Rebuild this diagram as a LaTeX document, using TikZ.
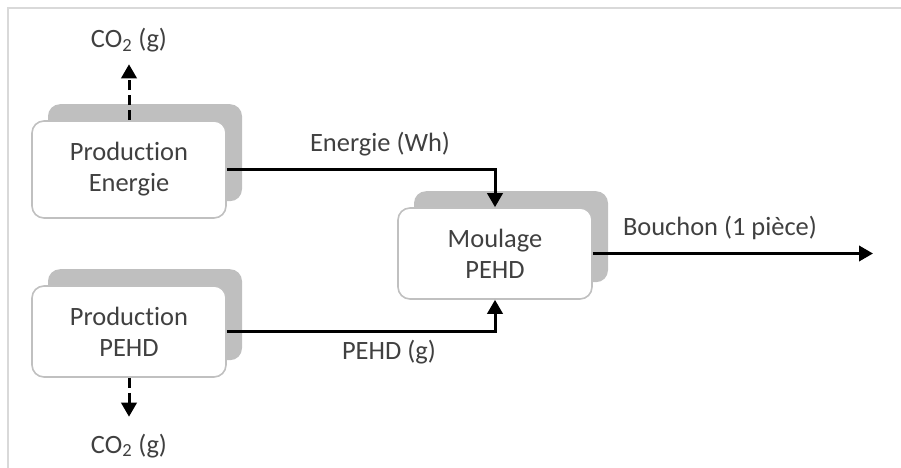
\documentclass[tikz,border=0pt]{standalone}
\usepackage{fontspec}
\setmainfont{Carlito}[Ligatures=NoCommon]
\usepackage{tikz}
\usetikzlibrary{arrows.meta,positioning,shadows}
\definecolor{txtgray}{HTML}{404040}
\definecolor{shadowgray}{HTML}{BFBFBF}
\definecolor{edgegray}{HTML}{C0C0C0}
\definecolor{framegray}{HTML}{D9D9D9}

\begin{document}
\begin{tikzpicture}[
  every node/.style={font=\fontsize{18.8}{22}\selectfont, text=txtgray},
  proc/.style={draw=edgegray, line width=0.04cm, fill=white, rounded corners=0.3cm,
    minimum width=4.85cm, minimum height=2.275cm, inner sep=0pt, align=center,
    general shadow={fill=shadowgray, shadow xshift=0.4cm, shadow yshift=0.42cm}},
  lbl/.style={inner sep=0.1cm, text height=0.45cm, text depth=0.13cm},
  flow/.style={-{Triangle[length=0.35cm, width=0.38cm]}, line width=0.075cm, black},
  emis/.style={flow, dash pattern=on 0.25cm off 0.125cm}
]
\useasboundingbox (0,0) rectangle (22.525,-11.7);
\draw[framegray, line width=0.05cm] (0.2125,-11.7) |- (22.525,-0.2);
% process boxes
\node[proc, minimum height=2.425cm] (prodE) at (3.225,-4.2375) {Production\\Energie};
\node[proc] (prodP) at (3.225,-8.2875) {Production\\PEHD};
\node[proc] (moul) at (12.375,-6.3375) {Moulage\\PEHD};
% emissions
\node[lbl, anchor=base] (co2E) at (3.225,-1.2) {CO\textsubscript{2} (g)};
\node[lbl, anchor=base] (co2P) at (3.225,-11.325) {CO\textsubscript{2} (g)};
\draw[emis, shorten >=0.17cm] (prodE.north) -- (co2E);
\draw[emis, shorten >=0.35cm] (prodP.south) -- (co2P);
% flows
\coordinate (out) at (21.825,-6.3375);
\draw[flow] (prodE.east) -| (moul.north);
\draw[flow] (prodP.east) -| (moul.south);
\draw[flow] (moul.east) -- (out);
\node[lbl, anchor=base] (lblE) at (9.5,-3.8) {Energie (Wh)};
\node[lbl, anchor=base] (lblP) at (9.725,-8.975) {PEHD (g)};
\node[lbl, anchor=base] (lblB) at (18.0,-5.9) {Bouchon (1 pièce)};
\end{tikzpicture}
\end{document}
